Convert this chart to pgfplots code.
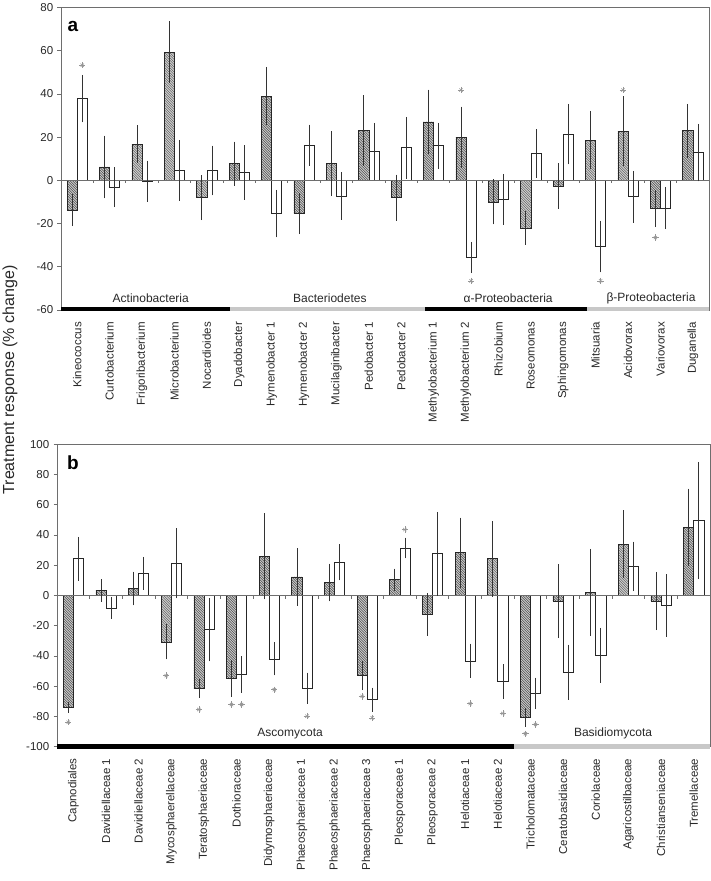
\documentclass[border=0pt]{standalone}
\usepackage{fontspec}
\setmainfont{Liberation Sans}
\usepackage{pgfplots}
\pgfplotsset{compat=1.18}
\usepackage{pgfplotstable}

\pgfplotstableread{
x h he w we
1 -13.7 6.5 37.8 10.0
2 6.2 13.5 -3.2 8.2
3 16.8 7.7 -0.4 8.5
4 59.3 13.4 4.6 13.0
5 -8.0 9.4 4.6 10.5
6 7.7 9.2 3.7 11.6
7 39.0 12.5 -15.4 10.0
8 -15.3 8.6 16.3 8.5
9 7.7 14.0 -7.2 9.9
10 23.1 15.3 13.3 12.3
11 -8.0 9.6 15.1 13.3
12 27.1 13.9 16.0 9.6
13 20.0 13.1 -35.7 6.2
14 -10.0 9.4 -8.8 10.8
15 -22.0 6.8 12.5 10.2
16 -2.6 9.6 21.4 13.0
17 18.6 12.5 -30.7 10.9
18 22.8 15.1 -7.6 11.0
19 -13.1 7.5 -12.8 8.8
20 23.0 11.4 12.8 12.3
}\dataA

\pgfplotstableread{
x h he w we
1 -73.9 2.2 24.3 13.0
2 3.3 6.1 -8.3 5.7
3 4.6 9.7 14.7 9.4
4 -30.7 10.1 21.3 21.7
5 -61.6 4.6 -22.6 19.5
6 -55.0 10.6 -52.2 10.5
7 25.9 27.0 -41.9 9.4
8 12.3 17.5 -61.2 8.8
9 8.6 11.1 21.9 10.5
10 -53.1 8.1 -68.9 6.5
11 10.5 5.9 31.4 5.4
12 -12.5 12.7 27.6 26.3
13 28.3 21.7 -43.2 9.9
14 24.3 23.5 -56.8 9.9
15 -80.5 4.8 -64.7 9.0
16 -3.7 23.0 -50.7 16.7
17 2.0 27.4 -39.5 16.7
18 33.8 21.0 19.3 14.9
19 -3.7 17.8 -6.6 19.3
20 45.0 24.3 49.6 37.3
}\dataB

\definecolor{framecol}{RGB}{110,110,110}
\definecolor{grpgray}{RGB}{200,200,200}
\definecolor{txtcol}{RGB}{40,40,40}
\definecolor{starcol}{RGB}{150,150,150}

\tikzset{hatchlines/.style={path picture={\foreach \k in {0,...,72}{\draw[black!72, line width=0.5pt] ([xshift=\k*2.5pt-165pt]path picture bounding box.north west) -- ++(200pt,-200pt);}}}}

\newcommand\hatchbars[1]{%
  \pgfplotsinvokeforeach{0,...,19}{%
    \pgfplotstablegetelem{##1}{h}\of#1%
    \let\hv\pgfplotsretval
    \pgfmathsetmacro\xl{##1+1-0.31}%
    \pgfmathsetmacro\xr{##1+1}%
    \edef\temp{\noexpand\path[hatchlines] (axis cs:\xl,0) rectangle (axis cs:\xr,\hv);}%
    \temp
  }%
}

\newcommand\zeroticks{%
  \draw[framecol, line width=0.8pt] (axis cs:0.5,0) -- (axis cs:20.5,0);
  \pgfplotsinvokeforeach{1.5,2.5,3.5,4.5,5.5,6.5,7.5,8.5,9.5,10.5,11.5,12.5,13.5,14.5,15.5,16.5,17.5,18.5,19.5}{%
    \draw[framecol, line width=0.7pt] (axis cs:##1,0) -- ([yshift=-3pt]axis cs:##1,0);
  }%
}

\pgfplotsset{
  panel/.style={
    scale only axis,
    clip=false,
    xmin=0.5, xmax=20.5,
    axis line style={framecol, line width=0.8pt},
    xtick={1,...,20},
    xtick pos=bottom,
    xtick style={draw=none, /pgfplots/major tick length=0pt},
    ytick pos=left,
    ytick style={framecol, line width=0.7pt, /pgfplots/major tick length=3.5pt},
    ytick align=outside,
    xticklabel shift=8.5pt,
    xticklabel style={rotate=90, anchor=east, font=\fontsize{11.5}{12}\selectfont, text=txtcol},
    yticklabel style={font=\fontsize{11.5}{12}\selectfont, text=txtcol},
    /pgf/number format/assume math mode=true,
  },
  hfill/.style={ybar, bar width=0.31, bar shift=0, draw=none, fill=gray!38},
  hout/.style={ybar, bar width=0.31, bar shift=0, draw=black!85, line width=0.6pt, fill=none},
  wbar/.style={ybar, bar width=0.31, bar shift=0, draw=black!85, line width=0.6pt, fill=white},
  errb/.style={ybar, bar width=0.31, bar shift=0, draw=none, fill=none,
    error bars/.cd, y dir=both, y explicit,
    error bar style={draw=black!80, line width=0.6pt},
    error mark options={draw=black!80, mark size=2.2pt, line width=0.6pt},
  },
  starA/.style={only marks, mark=+, mark size=3.2pt, starcol, mark options={line width=0.6pt}},
  starB/.style={only marks, mark=x, mark size=2.3pt, starcol, mark options={line width=0.6pt}},
}

\begin{document}
\begin{tikzpicture}[x=1pt,y=1pt]
\useasboundingbox (0,0) rectangle (711,-881);

\node[rotate=90, font=\fontsize{16}{18}\selectfont, text=txtcol] at (10,-380) {Treatment response (\% change)};

% ---------------- Panel a ----------------
\begin{axis}[panel,
  at={(61pt,-310pt)}, anchor=south west,
  width=648pt, height=302.5pt,
  ymin=-60, ymax=80, ytick={-60,-40,...,80},
  xticklabels={Kineococcus, Curtobacterium, Frigoribacterium, Microbacterium, Nocardioides, Dyadobacter, Hymenobacter 1, Hymenobacter 2, Mucilaginibacter, Pedobacter 1, Pedobacter 2, Methylobacterium 1, Methylobacterium 2, Rhizobium, Roseomonas, Sphingomonas, Mitsuaria, Acidovorax, Variovorax, Duganella},
]
\addplot[hfill] table[x expr=\thisrow{x}-0.155, y=h] {\dataA};
\hatchbars{\dataA}
\addplot[hout] table[x expr=\thisrow{x}-0.155, y=h] {\dataA};
\addplot[wbar] table[x expr=\thisrow{x}+0.155, y=w] {\dataA};
\zeroticks
\addplot[errb] table[x expr=\thisrow{x}-0.155, y=h, y error=he] {\dataA};
\addplot[errb] table[x expr=\thisrow{x}+0.155, y=w, y error=we] {\dataA};
\addplot[starA] coordinates {(1.155,53.3) (12.845,41.8) (13.155,-46.5) (17.155,-46.5) (17.845,41.8) (18.845,-26.5)};
\addplot[starB] coordinates {(1.155,53.3) (12.845,41.8) (13.155,-46.5) (17.155,-46.5) (17.845,41.8) (18.845,-26.5)};
% group bars
\fill[black] ([yshift=-1pt]axis cs:0.5,-60) rectangle ([yshift=3.5pt]axis cs:5.72,-60);
\fill[grpgray] ([yshift=-1pt]axis cs:5.72,-60) rectangle ([yshift=3.5pt]axis cs:11.72,-60);
\fill[black] ([yshift=-1pt]axis cs:11.72,-60) rectangle ([yshift=3.5pt]axis cs:16.72,-60);
\fill[grpgray] ([yshift=-1pt]axis cs:16.72,-60) rectangle ([yshift=3.5pt]axis cs:20.5,-60);
\node[font=\fontsize{12}{13}\selectfont, text=txtcol] at (axis cs:3.27,-54.5) {Actinobacteria};
\node[font=\fontsize{12}{13}\selectfont, text=txtcol] at (axis cs:8.80,-54.5) {Bacteriodetes};
\node[font=\fontsize{12}{13}\selectfont, text=txtcol] at (axis cs:14.3,-54.5) {α-Proteobacteria};
\node[font=\fontsize{12}{13}\selectfont, text=txtcol] at (axis cs:18.71,-54.5) {β-Proteobacteria};
\node[font=\fontsize{19}{20}\bfseries, text=black] at (rel axis cs:0.0185,0.937) {a};
\end{axis}

% ---------------- Panel b ----------------
\begin{axis}[panel,
  at={(57pt,-746.7pt)}, anchor=south west,
  width=653pt, height=302.4pt,
  ymin=-100, ymax=100, ytick={-100,-80,...,100},
  xticklabels={Capnodiales, Davidiellaceae 1, Davidiellaceae 2, Mycosphaerellaceae, Teratosphaeriaceae, Dothioraceae, Didymosphaeriaceae, Phaeosphaeriaceae 1, Phaeosphaeriaceae 2, Phaeosphaeriaceae 3, Pleosporaceae 1, Pleosporaceae 2, Helotiaceae 1, Helotiaceae 2, Tricholomataceae, Ceratobasidiaceae, Coriolaceae, Agaricostilbaceae, Christianseniaceae, Tremellaceae},
]
\addplot[hfill] table[x expr=\thisrow{x}-0.155, y=h] {\dataB};
\hatchbars{\dataB}
\addplot[hout] table[x expr=\thisrow{x}-0.155, y=h] {\dataB};
\addplot[wbar] table[x expr=\thisrow{x}+0.155, y=w] {\dataB};
\zeroticks
\addplot[errb] table[x expr=\thisrow{x}-0.155, y=h, y error=he] {\dataB};
\addplot[errb] table[x expr=\thisrow{x}+0.155, y=w, y error=we] {\dataB};
\addplot[starA] coordinates {(0.845,-83.8) (3.845,-53) (4.845,-75.4) (5.845,-72.1) (6.155,-72.1) (7.155,-62.3) (8.155,-79.8) (9.845,-66.7) (10.155,-80.9) (11.155,43.6) (13.155,-71.5) (14.155,-78) (14.845,-91.4) (15.155,-85.3)};
\addplot[starB] coordinates {(0.845,-83.8) (3.845,-53) (4.845,-75.4) (5.845,-72.1) (6.155,-72.1) (7.155,-62.3) (8.155,-79.8) (9.845,-66.7) (10.155,-80.9) (11.155,43.6) (13.155,-71.5) (14.155,-78) (14.845,-91.4) (15.155,-85.3)};
\fill[black] ([yshift=-2pt]axis cs:0.5,-100) rectangle ([yshift=3pt]axis cs:14.5,-100);
\fill[grpgray] ([yshift=-2pt]axis cs:14.5,-100) rectangle ([yshift=3pt]axis cs:20.5,-100);
\node[font=\fontsize{12}{13}\selectfont, text=txtcol] at (axis cs:7.64,-91.5) {Ascomycota};
\node[font=\fontsize{12}{13}\selectfont, text=txtcol] at (axis cs:17.53,-91.5) {Basidiomycota};
\node[font=\fontsize{19}{20}\bfseries, text=black] at (rel axis cs:0.0245,0.94) {b};
\end{axis}
\end{tikzpicture}
\end{document}
